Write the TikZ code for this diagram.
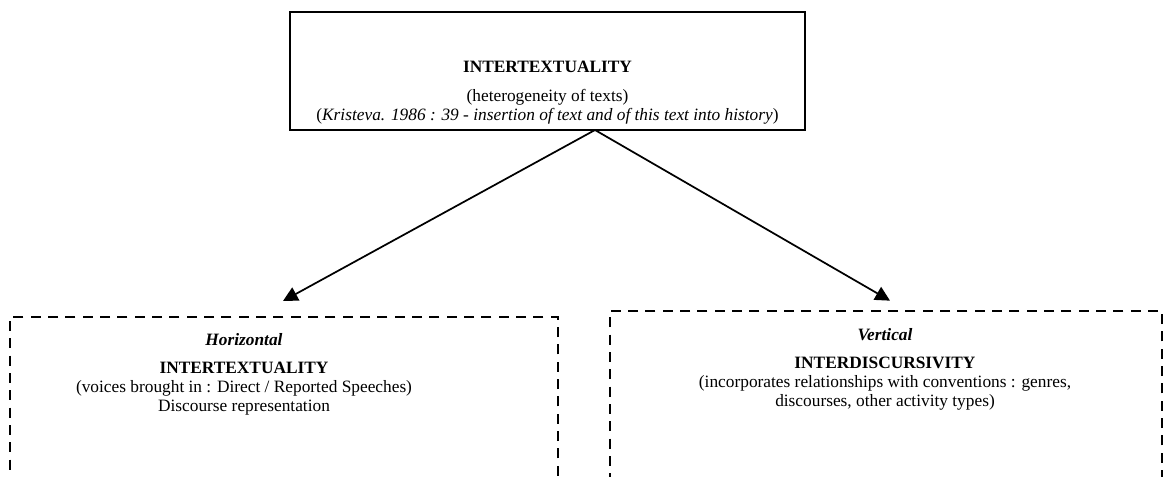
\documentclass[tikz,border=0pt]{standalone}
\usepackage{fontspec}
\setmainfont{Liberation Serif}
\usetikzlibrary{calc}
\usetikzlibrary{arrows.meta}

\begin{document}
\begin{tikzpicture}[x=0.75pt, y=-0.75pt,
        font=\fontsize{13}{14.2}\selectfont,
        mainbox/.style={draw=black, line width=1.5pt, rectangle, inner sep=0pt},
        dashbox/.style={draw=black, line width=1.5pt, rectangle, inner sep=0pt, dash pattern=on 7.5pt off 5.5pt},
        boxtext/.style={align=center, inner sep=0pt},
        link/.style={line width=1.3pt, -{Triangle[length=11pt, width=11pt]}}]
        \useasboundingbox (0,0) rectangle (1163,477);
        \clip (0,0) rectangle (1163,477);

        \node[mainbox, minimum width=386.25pt, minimum height=88.5pt] (topbox) at (547.5,71) {};
        \node[boxtext] (toptext) at (547.5,93) {\textbf{INTERTEXTUALITY}\\[7pt]
            (heterogeneity of texts)\\[0.5pt]
            (\textit{Kristeva. 1986 : 39 - insertion of text and of this text into history})};

        \node[dashbox, minimum width=411pt, minimum height=150pt] (horbox) at (284,417) {};
        \node[boxtext] (hortext) at (244,374) {\textbf{\textit{Horizontal}}\\[7pt]
            \textbf{INTERTEXTUALITY}\\
            (voices brought in : Direct / Reported Speeches)\\
            Discourse representation};

        \node[dashbox, minimum width=414pt, minimum height=155pt] (verbox) at (886,414) {};
        \node[boxtext] (vertext) at (885,369) {\textbf{\textit{Vertical}}\\[7pt]
            \textbf{INTERDISCURSIVITY}\\
            (incorporates relationships with conventions : genres,\\
            discourses, other activity types)};

        \coordinate (fork) at (595,130);
        \draw[link] (fork) -- ($(horbox.north)+(-1,-15)$);
        \draw[link] (fork) -- ($(verbox.north)+(4,-9)$);
\end{tikzpicture}
\end{document}
